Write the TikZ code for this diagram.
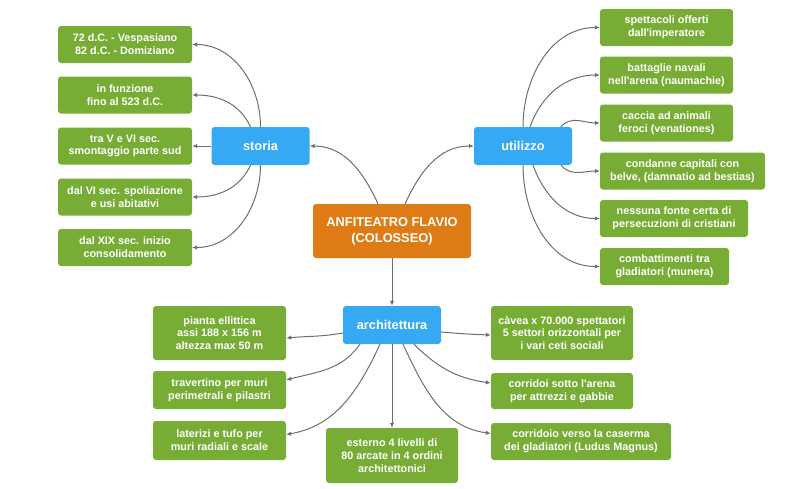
\documentclass[tikz,border=0pt]{standalone}
\usepackage{fontspec}
\setmainfont{Liberation Sans}
\usetikzlibrary{arrows.meta}

\definecolor{leafgreen}{HTML}{77AD34}
\definecolor{topicblue}{HTML}{35A9F4}
\definecolor{mainorange}{HTML}{DF7B14}
\definecolor{linkgray}{HTML}{6E6E6E}

\tikzset{
  box/.style={fill=#1, rounded corners=3pt, text=white, align=center, inner sep=0pt,
    font=\bfseries\fontsize{10.8}{12.8}\selectfont},
  leafbox/.style={box=leafgreen, minimum height=37pt},
  topicbox/.style={box=topicblue, minimum width=98pt, minimum height=38pt,
    font=\bfseries\fontsize{12.8}{16}\selectfont},
  mainbox/.style={box=mainorange, minimum width=158pt, minimum height=54pt,
    font=\bfseries\fontsize{12.8}{16}\selectfont},
  link/.style={draw=linkgray, line width=1pt, -{Latex[length=5pt,width=4.5pt]}}
}

\begin{document}
\begin{tikzpicture}[x=1pt,y=-1pt]
    \useasboundingbox (0,0) rectangle (800,488);
    \node[mainbox] (colosseo) at (392,231) {ANFITEATRO FLAVIO\\(COLOSSEO)};
    \node[topicbox] (storia) at (260.5,146) {storia};
    \node[topicbox] (utilizzo) at (523,146) {utilizzo};
    \node[topicbox] (archi) at (392,325) {architettura};
    \draw[link] ([xshift=-14pt]colosseo.north) to[out=115,in=0] (storia.east);
    \draw[link] ([xshift=13pt]colosseo.north) to[out=65,in=180] (utilizzo.west);
    \draw[link] (colosseo.south) -- (archi.north);
    % storia
    \node[leafbox,minimum width=134pt] (s1) at (125,44.5) {72 d.C. - Vespasiano\\82 d.C. - Domiziano};
    \node[leafbox,minimum width=134pt] (s2) at (125,95) {in funzione\\fino al 523 d.C.};
    \node[leafbox,minimum width=134pt] (s3) at (125,146) {tra V e VI sec.\\smontaggio parte sud};
    \node[leafbox,minimum width=134pt] (s4) at (125,197) {dal VI sec. spoliazione\\e usi abitativi};
    \node[leafbox,minimum width=134pt] (s5) at (125,247.5) {dal XIX sec. inizio\\consolidamento};
    \draw[link] (storia.north) to[out=90,in=0] (s1.east);
    \draw[link] ([xshift=-10pt]storia.north) to[out=115,in=0] (s2.east);
    \draw[link] (storia.west) -- (s3.east);
    \draw[link] ([xshift=-10pt]storia.south) to[out=-115,in=0] (s4.east);
    \draw[link] (storia.south) to[out=-90,in=0] (s5.east);
    % utilizzo
    \node[leafbox,minimum width=133pt] (u1) at (666.5,27.5) {spettacoli offerti\\dall\textquotesingle imperatore};
    \node[leafbox,minimum width=133pt] (u2) at (666.5,75) {battaglie navali\\nell\textquotesingle arena (naumachie)};
    \node[leafbox,minimum width=133pt] (u3) at (666.5,123) {caccia ad animali\\feroci (venationes)};
    \node[leafbox,minimum width=165pt] (u4) at (682.5,171) {condanne capitali con\\belve, (damnatio ad bestias)};
    \node[leafbox,minimum width=148pt] (u5) at (674,218.5) {nessuna fonte certa di\\persecuzioni di cristiani};
    \node[leafbox,minimum width=129pt] (u6) at (664.5,266.5) {combattimenti tra\\gladiatori (munera)};
    \draw[link] (utilizzo.north) to[out=90,in=180] (u1.west);
    \draw[link] ([xshift=7pt]utilizzo.north) to[out=70,in=180] (u2.west);
    \draw[link] ([xshift=38pt]utilizzo.north) to[out=50,in=180] (u3.west);
    \draw[link] ([xshift=38pt]utilizzo.south) to[out=-50,in=180] (u4.west);
    \draw[link] ([xshift=10pt]utilizzo.south) to[out=-70,in=180] (u5.west);
    \draw[link] (utilizzo.south) to[out=-90,in=180] (u6.west);
    % architettura
    \node[leafbox,minimum width=133pt,minimum height=54pt] (al1) at (219.5,333)
      {pianta ellittica\\assi 188 x 156 m\\altezza max 50 m};
    \node[leafbox,minimum width=133pt,minimum height=38pt] (al2) at (219.5,390)
      {travertino per muri\\perimetrali e pilastri};
    \node[leafbox,minimum width=133pt,minimum height=39pt] (al3) at (219.5,440.5)
      {laterizi e tufo per\\muri radiali e scale};
    \node[leafbox,minimum width=132pt,minimum height=55pt] (ab) at (392,455.5)
      {esterno 4 livelli di\\80 arcate in 4 ordini\\architettonici};
    \node[leafbox,minimum width=142pt,minimum height=54pt] (ar1) at (562,333)
      {càvea x 70.000 spettatori\\5 settori orizzontali per\\i vari ceti sociali};
    \node[leafbox,minimum width=142pt,minimum height=36pt] (ar2) at (562,391)
      {corridoi sotto l\textquotesingle arena\\per attrezzi e gabbie};
    \node[leafbox,minimum width=180pt,minimum height=37pt] (ar3) at (581,441.5)
      {corridoio verso la caserma\\dei gladiatori (Ludus Magnus)};
    \draw[link] ([yshift=-8pt]archi.west) to[out=190,in=5] ([yshift=-5pt]al1.east);
    \draw[link] ([xshift=-32pt]archi.south) to[out=-125,in=15] ([yshift=10pt]al2.east);
    \draw[link] ([xshift=-12pt]archi.south) to[out=-115,in=10] ([yshift=6pt]al3.east);
    \draw[link] (archi.south) -- (ab.north);
    \draw[link] ([yshift=-7pt]archi.east) to[out=-5,in=178] ([yshift=-2pt]ar1.west);
    \draw[link] ([xshift=22pt]archi.south) to[out=-45,in=172] ([yshift=8pt]ar2.west);
    \draw[link] ([xshift=11pt]archi.south) to[out=-65,in=172] ([yshift=8pt]ar3.west);
\end{tikzpicture}
\end{document}
